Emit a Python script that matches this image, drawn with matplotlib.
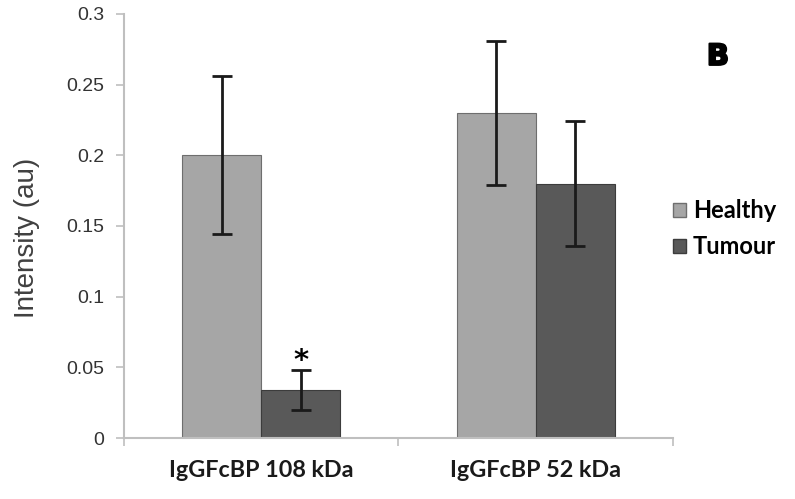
import matplotlib
matplotlib.use("Agg")
import matplotlib.pyplot as plt
import matplotlib.patheffects as pe
import numpy as np
from matplotlib.patches import Patch

# --- data ---
categories = ["IgGFcBP 108 kDa", "IgGFcBP 52 kDa"]
healthy = [0.200, 0.230]
healthy_err = [0.056, 0.051]
tumour = [0.034, 0.180]
tumour_err = [0.014, 0.044]
yticks = [0, 0.05, 0.1, 0.15, 0.2, 0.25, 0.3]
ytick_labels = ["0", "0.05", "0.1", "0.15", "0.2", "0.25", "0.3"]

HEALTHY_COLOR = "#a6a6a6"
TUMOUR_COLOR = "#595959"
AXIS_COLOR = "#bfbfbf"

fig = plt.figure(figsize=(7.95, 4.99), dpi=100)
ax = fig.add_axes([0.156, 0.1222, 0.6905, 0.8498])

x = np.arange(len(categories))
width = 0.288
ax.bar(x - width / 2, healthy, width, color=HEALTHY_COLOR, edgecolor="#6e6e6e", linewidth=0.8)
ax.bar(x + width / 2, tumour, width, color=TUMOUR_COLOR, edgecolor="#3c3c3c", linewidth=0.8)
ax.errorbar(x - width / 2, healthy, yerr=healthy_err, fmt="none", ecolor="#1a1a1a",
            elinewidth=2, capsize=7, capthick=2)
ax.errorbar(x + width / 2, tumour, yerr=tumour_err, fmt="none", ecolor="#1a1a1a",
            elinewidth=2, capsize=7, capthick=2)

# significance marker above the tumour bar of the 108 kDa band
ax.text(x[0] + width / 2, 0.0545, "*", ha="center", va="center",
        fontsize=21, fontweight="bold", color="black", family="DejaVu Sans")

ax.set_xlim(-0.5, 1.5)
ax.set_ylim(0, 0.3)
ax.set_yticks(yticks)
ax.set_yticklabels(ytick_labels, family="Liberation Sans", fontsize=14, color="#333333")
ax.tick_params(axis="y", direction="out", length=6, width=1.2, color=AXIS_COLOR, pad=8)

ax.set_xticks(x)
ax.set_xticklabels(categories, family="Lato", fontweight="bold", fontsize=16.8, color="#1a1a1a")
ax.tick_params(axis="x", which="major", length=0, pad=16)
ax.set_xticks([-0.5, 0.5, 1.5], minor=True)
ax.tick_params(axis="x", which="minor", direction="out", length=6, width=1.2, color=AXIS_COLOR)

for side in ["top", "right"]:
    ax.spines[side].set_visible(False)
for side in ["left", "bottom"]:
    ax.spines[side].set_color(AXIS_COLOR)
    ax.spines[side].set_linewidth(1.5)

fig.text(27 / 795, 1 - 237.5 / 499, "Intensity (au)", rotation=90, ha="center", va="center",
         family="Liberation Sans", fontsize=20, color="#404040")

handles = [Patch(facecolor=HEALTHY_COLOR, edgecolor="#6e6e6e", label="Healthy"),
           Patch(facecolor=TUMOUR_COLOR, edgecolor="#3c3c3c", label="Tumour")]
fig.legend(handles=handles, loc="center left", bbox_to_anchor=(0.8465, 0.542), frameon=False,
           prop={"family": "Lato", "weight": "bold", "size": 17}, handlelength=0.55,
           handleheight=0.55, handletextpad=0.3, labelspacing=0.55, borderpad=0,
           borderaxespad=0)

fig.text(0.903, 0.886, "B", family="DejaVu Sans", fontweight="bold", fontsize=21,
         ha="center", va="center",
         path_effects=[pe.withStroke(linewidth=1.5, foreground="black")])

fig.savefig("out.png", dpi=100)
